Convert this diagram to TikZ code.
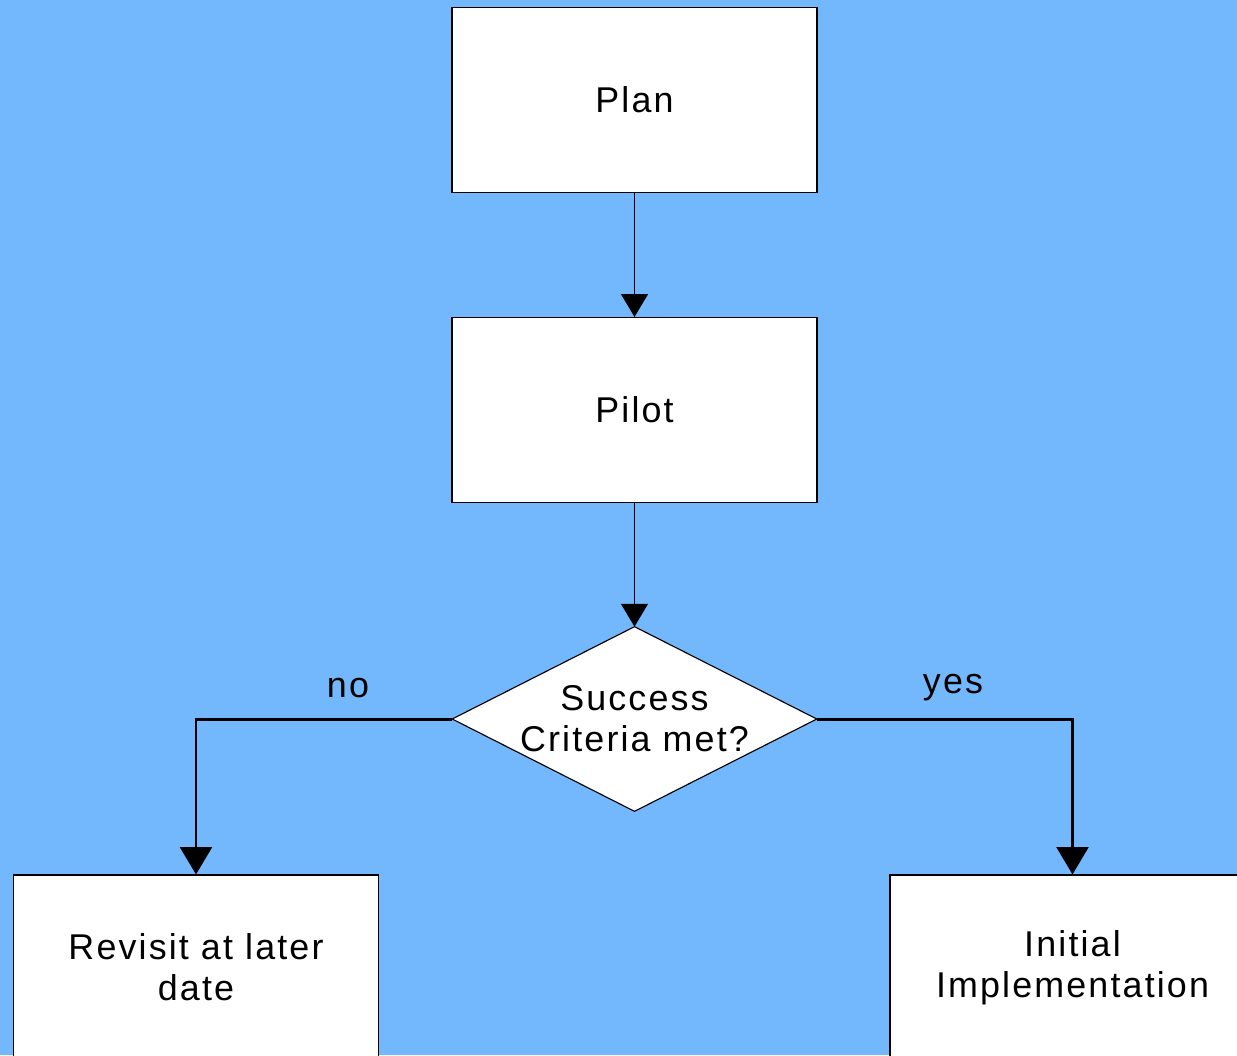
\documentclass[tikz,border=0pt]{standalone}
\usepackage{fontspec}
\setmainfont{Liberation Sans}[LetterSpace=6]
\usetikzlibrary{arrows.meta}
\definecolor{bgblue}{RGB}{115,184,252}
\begin{document}
\begin{tikzpicture}[x=0.02cm,y=-0.02cm,
  every node/.style={font=\fontsize{20.4pt}{23.3pt}\selectfont},
  box/.style={draw, fill=white, line width=0.65pt, minimum width=7.3cm, minimum height=3.7cm, align=center, inner sep=0pt},
  decision/.style={minimum width=7.28cm, minimum height=3.68cm, align=center, inner sep=0pt},
  rhombus/.style={draw, fill=white, line width=0.65pt, line join=miter},
  flow/.style={line width=0.85pt, -{Triangle[width=15.3pt,length=13pt]}},
  branch/.style={line width=1.7pt, -{Triangle[width=18pt,length=15.5pt]}},
]
% page background and frame
\fill[bgblue] (0,0) rectangle (1237,1055);
\useasboundingbox (0,0) rectangle (1237,1055);
\clip (0,0) rectangle (1237,1055);

% process steps
\node[box] (plan) at (634.5,100) {Plan};
\node[box] (pilot) at (634.5,410) {Pilot};
\node[decision] (crit) at (634.5,719) {};
\draw[rhombus] (crit.north) -- (crit.east) -- (crit.south) -- (crit.west) -- cycle;
\node[decision] at (crit.center) {Success\\Criteria met?};
\node[box] (revisit) at (196,967.5) {Revisit at later\\date};
\node[box] (impl) at (1072.5,967.5) {Initial\\Implementation};

% connectors
\draw[flow] (plan) -- (pilot);
\draw[flow] (pilot) -- (crit.north);
\draw[branch] (crit.west) -| (revisit.north);
\draw[branch] (crit.east) -| (impl.north);

% branch labels
\node at (348,688) {no};
\node at (953,688) {yes};
\end{tikzpicture}
\end{document}
